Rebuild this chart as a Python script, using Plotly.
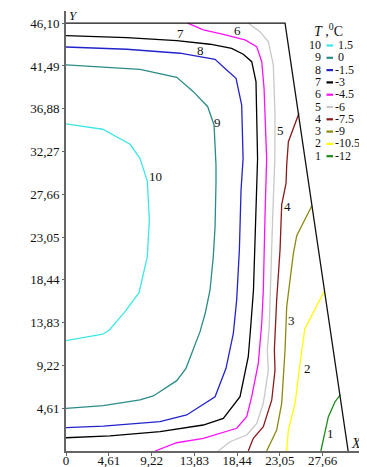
import plotly.graph_objects as go

# ---- domain boundary (trapezoid) ----
border_x = [0, 23.6, 30.4]
border_y = [46.10, 46.10, 0]

# ---- contour lines, data units ----
c10_x = [0, 3.95, 6.90, 7.97, 8.76, 8.98, 8.76, 7.87, 6.36, 4.67, 3.95, 0]
c10_y = [35.24, 34.67, 33.05, 31.54, 29.09, 24.89, 20.94, 17.06, 15.01, 13.04, 12.58, 11.89]

c9_x = [0, 2.94, 7.97, 11.93, 13.72, 15.27, 15.95, 16.16, 16.16, 16.06, 15.87, 15.52, 15.0, 14.44, 12.93, 11.93, 9.41, 7.97, 4.02, 0]
c9_y = [41.60, 41.41, 41.13, 40.27, 38.72, 37.10, 35.13, 30.82, 28.85, 24.17, 20.94, 17.35, 14.84, 12.86, 8.91, 7.58, 5.93, 5.50, 4.88, 4.60]

c8_x = [0, 6.54, 12.28, 16.06, 17.31, 18.32, 18.93, 19.08, 18.86, 18.68, 18.39, 18.03, 17.24, 16.06, 13.0, 10.13, 4.02, 0]
c8_y = [43.53, 43.29, 42.86, 42.21, 41.06, 40.16, 37.28, 31.5, 28.12, 21.66, 16.27, 12.68, 8.91, 5.85, 3.88, 3.16, 2.69, 2.51]

c7_x = [0, 6.54, 11.93, 15.52, 17.85, 19.10, 20.01, 20.47, 20.64, 20.47, 20.20, 19.90, 19.64, 18.75, 16.95, 14.79, 10.13, 4.74, 0]
c7_y = [44.75, 44.54, 44.21, 43.83, 43.39, 42.75, 41.95, 39.80, 31.5, 25.25, 17.35, 13.39, 10.16, 5.85, 3.52, 2.80, 2.08, 1.62, 1.43]

c6_x = [13.11, 14.80, 16.95, 19.29, 20.55, 21.09, 21.34, 21.62, 21.44, 21.26, 21.09, 20.83, 20.72, 20.01, 19.47, 18.39, 16.59, 14.80, 11.93, 9.59]
c6_y = [46.10, 45.37, 44.90, 44.29, 43.57, 41.95, 39.08, 31.5, 25.25, 17.35, 13.76, 10.88, 9.45, 5.85, 3.70, 2.45, 1.91, 1.37, 0.89, 0]

c5_x = [19.65, 20.91, 21.80, 22.34, 22.52, 22.50, 22.27, 22.06, 21.90, 21.69, 21.80, 21.26, 20.55, 19.47, 17.67, 16.41]
c5_y = [46.10, 45.18, 44.10, 41.60, 36.21, 31.5, 25.25, 18.07, 13.5, 10.88, 8.73, 5.14, 2.98, 1.72, 1.00, 0]

c4_x = [25.10, 23.96, 23.78, 23.71, 23.24, 23.06, 22.70, 22.45, 22.52, 22.17, 21.26, 20.18, 19.64]
c4_y = [36.39, 33.33, 30.82, 28.85, 26.54, 21.66, 16.27, 10.88, 8.73, 5.50, 2.62, 1.37, 0]

c3_x = [26.48, 24.86, 24.49, 23.78, 23.60, 23.24, 22.70, 21.62]
c3_y = [26.40, 23.20, 21.23, 15.55, 10.88, 5.14, 2.26, 0]

c2_x = [27.84, 25.73, 25.22, 24.68, 23.96, 23.78]
c2_y = [17.24, 13.15, 9.45, 5.14, 2.26, 0]

c1_x = [29.53, 28.99, 28.27, 27.91, 27.46]
c1_y = [6.03, 5.31, 3.70, 1.91, 0]

levels = ["10", "9", "8", "7", "6", "5", "4", "3", "2", "1"]
temps = ["1.5", "0", "-1.5", "-3", "-4.5", "-6", "-7.5", "-9", "-10.5", "-12"]
colors = ["#3fe6e6", "#2a8c88", "#2323cc", "#000000", "#ff10ff",
          "#c8c8c8", "#8b1a1a", "#8a8a10", "#ffff00", "#1a8a1a"]

xs = [c10_x, c9_x, c8_x, c7_x, c6_x, c5_x, c4_x, c3_x, c2_x, c1_x]
ys = [c10_y, c9_y, c8_y, c7_y, c6_y, c5_y, c4_y, c3_y, c2_y, c1_y]

# label anchor positions for contour numbers
lab_x = [9.65, 16.35, 14.5, 12.36, 18.46, 23.06, 23.9, 24.3, 26.0, 28.55]
lab_y = [29.6, 35.4, 43.2, 44.95, 45.3, 34.5, 26.3, 14.1, 8.85, 1.9]

x_ticks = [0, 4.61, 9.22, 13.83, 18.44, 23.05, 27.66]
x_tick_text = ["0", "4,61", "9,22", "13,83", "18,44", "23,05", "27,66"]
y_ticks = [4.61, 9.22, 13.83, 18.44, 23.05, 27.66, 32.27, 36.88, 41.49, 46.10]
y_tick_text = ["4,61", "9,22", "13,83", "18,44", "23,05", "27,66", "32,27", "36,88", "41,49", "46,10"]

FONT = "Liberation Serif"

fig = go.Figure()
for cx, cy, col in zip(xs, ys, colors):
    fig.add_trace(go.Scatter(x=cx, y=cy, mode="lines",
                             line=dict(color=col, width=1.3),
                             hoverinfo="skip", showlegend=False))
fig.add_trace(go.Scatter(x=border_x, y=border_y, mode="lines",
                         line=dict(color="#111111", width=1.3),
                         hoverinfo="skip", showlegend=False))

annotations = []
for t, lx, ly in zip(levels, lab_x, lab_y):
    annotations.append(dict(x=lx, y=ly, xref="x", yref="y", text=t, showarrow=False,
                            font=dict(family=FONT, size=13, color="#111"),
                            xanchor="center", yanchor="middle", borderpad=0))

# paper-coordinate helpers (plot area spans reference px 66..363, py 11..451)
def px(p):
    return (p - 66) / 297.0
def py(p):
    return (451 - p) / 440.0

annotations.append(dict(x=px(313), y=py(30), xref="paper", yref="paper",
                        text="<i>T</i> ,<sup>0</sup>C", showarrow=False,
                        font=dict(family=FONT, size=14, color="#111"),
                        xanchor="left", yanchor="middle", borderpad=0))
shapes = []
for i, (lv, tv, col) in enumerate(zip(levels, temps, colors)):
    rowy = 45 + i * 12.3
    annotations.append(dict(x=px(322), y=py(rowy), xref="paper", yref="paper",
                            text=lv, showarrow=False, borderpad=0, height=12,
                            font=dict(family=FONT, size=12, color="#111"),
                            xanchor="right", yanchor="middle"))
    txt = tv if tv.startswith("-") else "\u00a0" + tv
    annotations.append(dict(x=px(334), y=py(rowy), xref="paper", yref="paper",
                            text=txt, showarrow=False, borderpad=0, height=12,
                            font=dict(family=FONT, size=12, color="#111"),
                            xanchor="left", yanchor="middle"))
    shapes.append(dict(type="line", xref="paper", yref="paper",
                       x0=px(326.5), x1=px(333), y0=py(rowy + 0.5), y1=py(rowy + 0.5),
                       line=dict(color=col, width=2.2)))

annotations.append(dict(x=px(73), y=py(16), xref="paper", yref="paper",
                        text="<i>Y</i>", showarrow=False, borderpad=0,
                        font=dict(family=FONT, size=13, color="#111"),
                        xanchor="center", yanchor="middle"))
annotations.append(dict(x=px(356), y=py(443), xref="paper", yref="paper",
                        text="<i>X</i>", showarrow=False, borderpad=0,
                        font=dict(family=FONT, size=14, color="#111"),
                        xanchor="center", yanchor="middle"))

# the page body has an 8px margin, so the figure is 8px smaller and shifted
fig.update_layout(
    template="none",
    width=359, height=459,
    margin=dict(l=58, r=4, t=3, b=16, pad=0),
    paper_bgcolor="white", plot_bgcolor="white",
    annotations=annotations, shapes=shapes,
    xaxis=dict(range=[0, 32.0], showgrid=False, zeroline=False, automargin=False,
               showline=True, linecolor="#666", linewidth=2,
               tickmode="array", tickvals=x_ticks, ticktext=x_tick_text,
               ticks="outside", ticklen=3, tickcolor="#666", ticklabelstandoff=-7,
               tickfont=dict(family=FONT, size=13, color="#111")),
    yaxis=dict(range=[0, 47.41], showgrid=False, zeroline=False, automargin=False,
               showline=True, linecolor="#666", linewidth=2,
               tickmode="array", tickvals=y_ticks, ticktext=y_tick_text,
               ticks="outside", ticklen=2, tickcolor="#666",
               tickfont=dict(family=FONT, size=13, color="#111")),
)

fig.write_html("out.html")
